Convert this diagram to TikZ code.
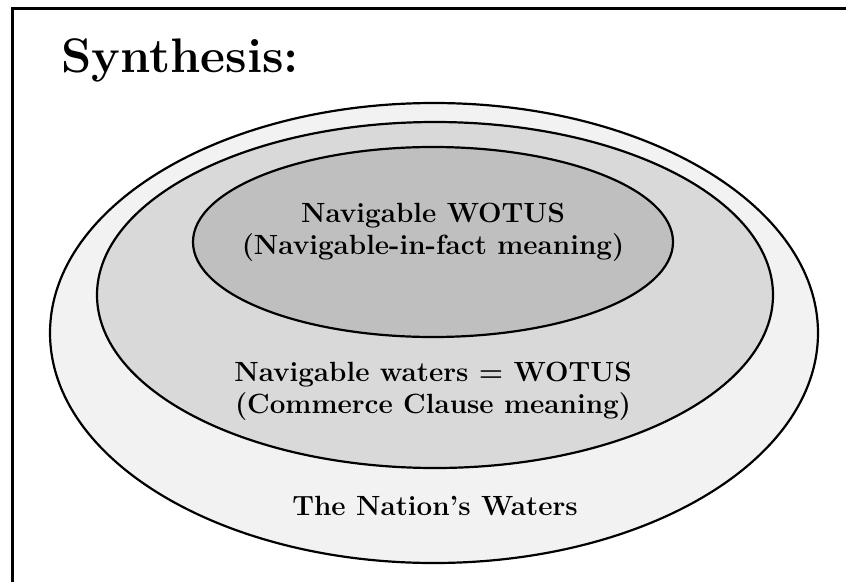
\documentclass[tikz,border=0pt]{standalone}
\usepackage{fontspec}
\begin{document}
\begin{tikzpicture}[x=1pt,y=-1pt,
  ring/.style={draw=black,line width=2.2pt},
  lbl/.style={font=\fontsize{27.8}{32}\selectfont\bfseries,align=center,inner sep=0pt}]
\useasboundingbox (0,0) rectangle (846,581);
\clip (0,0) rectangle (846,581);
\draw[line width=3pt] (12,620) -- (12,8) -- (880,8);
\node[anchor=base west,inner sep=0pt,font=\fontsize{48.5}{56}\selectfont\bfseries] (title) at (61,72) {Synthesis:};
\filldraw[ring,fill=black!5] (434,333) ellipse [x radius=384,y radius=230];
\filldraw[ring,fill=black!15] (435,295) ellipse [x radius=338,y radius=173];
\filldraw[ring,fill=black!25] (433,242) ellipse [x radius=240,y radius=95];
\node[lbl] (inner) at (433,232.5) {Navigable WOTUS\\(Navigable-in-fact meaning)};
\node[lbl] (middle) at (433,391.5) {Navigable waters = WOTUS\\(Commerce Clause meaning)};
\node[lbl,anchor=base] (outer) at (435,515) {The Nation's Waters};
\end{tikzpicture}
\end{document}
